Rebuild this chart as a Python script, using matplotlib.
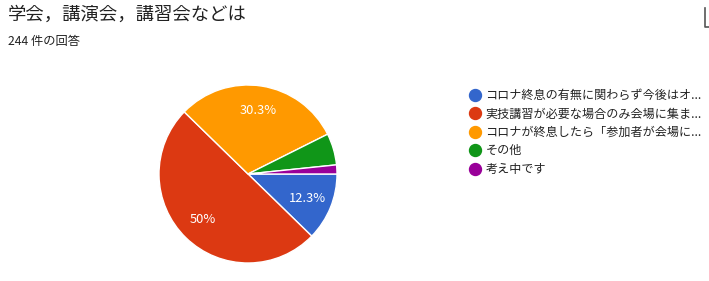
import matplotlib
matplotlib.use("Agg")
import matplotlib.pyplot as plt
from matplotlib.lines import Line2D

plt.rcParams["font.family"] = ["Noto Sans CJK JP", "DejaVu Sans"]

title = "学会，講演会，講習会などは"
subtitle = "244 件の回答"
labels = [
    "コロナ終息の有無に関わらず今後はオ...",
    "実技講習が必要な場合のみ会場に集ま...",
    "コロナが終息したら「参加者が会場に...",
    "その他",
    "考え中です",
]
counts = [30, 122, 74, 14, 4]
colors = ["#3366cc", "#dc3912", "#ff9900", "#109618", "#990099"]


def pct_label(p):
    if p < 10:
        return ""
    s = f"{p:.1f}"
    return (s[:-2] if s.endswith(".0") else s) + "%"


W, H = 709, 281
fig = plt.figure(figsize=(W / 100, H / 100), dpi=100)

fig.text(8 / W, 1 - 15 / H, title, fontsize=13.2, color="#212121", va="center", ha="left")
fig.text(8 / W, 1 - 42 / H, subtitle, fontsize=8.8, color="#212121", va="center", ha="left")

# pie: center ~ (248,174), radius ~89 px
r = 89
ax = fig.add_axes([(248 - r) / W, (H - 174 - r) / H, 2 * r / W, 2 * r / H])
wedges, _, autotexts = ax.pie(
    counts, colors=colors, startangle=0, counterclock=False,
    autopct=pct_label, pctdistance=0.72,
    wedgeprops=dict(edgecolor="white", linewidth=1),
    textprops=dict(color="white", fontsize=9.3),
)
ax.set_aspect("equal")
ax.set_xlim(-1, 1)
ax.set_ylim(-1, 1)

handles = [Line2D([], [], marker="o", ls="", markersize=8.6, markerfacecolor=c,
                  markeredgecolor=c) for c in colors]
fig.legend(handles, labels, loc="upper left", bbox_to_anchor=(463 / W, 1 - 83 / H),
           frameon=False, fontsize=8.7, labelspacing=0.45, handletextpad=0.35,
           handlelength=1.0, borderpad=0, labelcolor="#222222")

# small cropped glyph at the top right edge
fig.add_artist(Line2D([705 / W, 705 / W, 709 / W], [1 - 8 / H, 1 - 27 / H, 1 - 27 / H],
                      color="#555555", lw=1.2))

fig.savefig("out.png", dpi=100)
